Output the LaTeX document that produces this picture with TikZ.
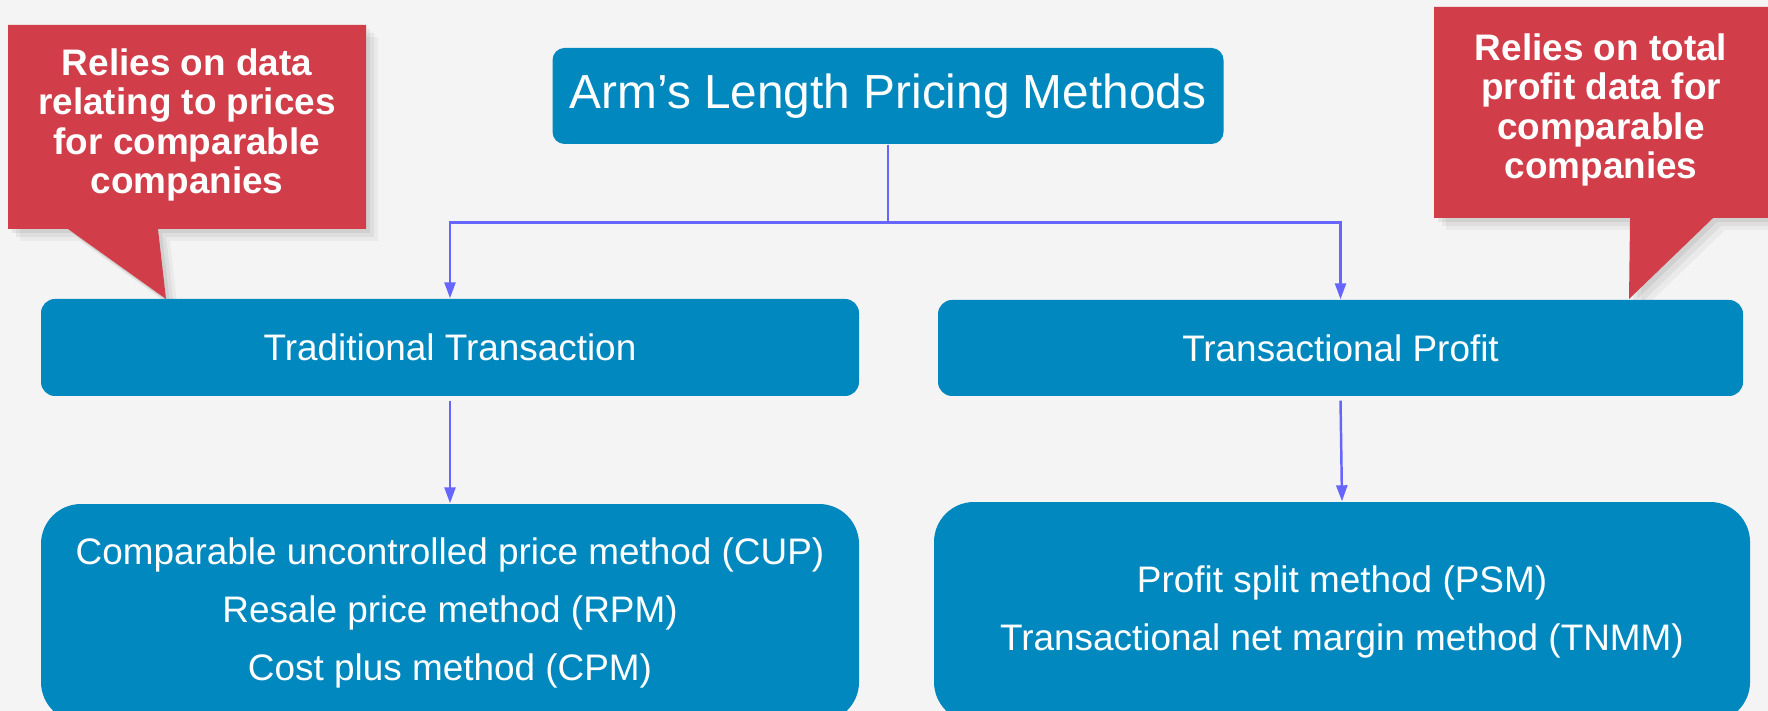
\documentclass[tikz,border=0pt]{standalone}
\usepackage{fontspec}
\setmainfont{Liberation Sans}
\usetikzlibrary{arrows.meta,shadows,positioning}

\definecolor{boxblue}{RGB}{1,137,191}
\definecolor{notered}{RGB}{209,62,74}
\definecolor{flowblue}{RGB}{102,102,255}
\definecolor{paper}{RGB}{244,244,244}

\tikzset{
  methodbox/.style={fill=boxblue, text=white, inner sep=0pt, align=center,
    font=\fontsize{10.5}{16.4}\selectfont},
  flow/.style={draw=flowblue, line width=0.7pt, -{Triangle[width=0.11cm,length=0.16cm]}},
  notetext/.style={text=white, inner sep=0pt, align=center,
    font=\bfseries\fontsize{10.5}{11.2}\selectfont},
  noteshadow/.style={
    drop shadow={shadow xshift=0.12cm, shadow yshift=-0.12cm, opacity=0.04, fill=black},
    drop shadow={shadow xshift=0.08cm, shadow yshift=-0.08cm, opacity=0.05, fill=black},
    drop shadow={shadow xshift=0.04cm, shadow yshift=-0.04cm, opacity=0.06, fill=black}},
}

\begin{document}
\begin{tikzpicture}
 \def\W{17.68}
 \def\H{7.11}

    % Background
    \fill[paper] (0,0) rectangle (\W,-\H);
    \useasboundingbox (0,0) rectangle (\W,-\H);

    % Notes
    \coordinate (ltip) at (1.66,-2.99);
    \coordinate (rtip) at (16.29,-2.99);
    \fill[notered, noteshadow] (0.08,-0.25) -- (3.66,-0.25) -- (3.66,-2.29) -- (1.58,-2.29)
      -- (ltip) -- (0.68,-2.29) -- (0.08,-2.29) -- cycle;
    \fill[notered, noteshadow] (14.34,-0.07) -- (17.80,-0.07) -- (17.80,-2.18) -- (17.13,-2.18)
      -- (rtip) -- (16.30,-2.18) -- (14.34,-2.18) -- cycle;
    \node[notetext] (lnote) at (1.87,-1.25) {Relies on data\\relating to prices\\for comparable\\companies};
    \node[notetext] (rnote) at (16.01,-1.10) {Relies on total\\profit data for\\comparable\\companies};

    % Boxes
    \node[methodbox, minimum width=6.71cm, minimum height=0.96cm, rounded corners=0.12cm,
      font=\fontsize{13.6}{16}\selectfont] (title) at (8.88,-0.96) {Arm’s Length Pricing Methods};
    \node[methodbox, minimum width=8.18cm, minimum height=0.97cm, rounded corners=0.14cm]
      (trad) at (4.50,-3.475) {Traditional Transaction};
    \node[methodbox, minimum width=8.05cm, minimum height=0.96cm, rounded corners=0.14cm]
      (tprof) at (13.405,-3.48) {Transactional Profit};
    \node[methodbox, minimum width=8.18cm, minimum height=2.18cm, rounded corners=0.4cm]
      (tradlist) at (4.50,-6.13) {Comparable uncontrolled price method (CUP)\\Resale price method (RPM)\\Cost plus method (CPM)};
    \node[methodbox, minimum width=8.16cm, minimum height=2.20cm, rounded corners=0.4cm]
      (proflist) at (13.42,-6.12) {Profit split method (PSM)\\Transactional net margin method (TNMM)};

    % Arrows
    \draw[flow] (title.south) -- ++(0,-0.78) -| (trad.north);
    \draw[flow] (title.south) -- ++(0,-0.78) -| (tprof.north);
    \draw[flow] ([yshift=-0.04cm]trad.south) -- (tradlist.north);
    \draw[flow] ([yshift=-0.04cm]tprof.south) -- (proflist.north);
\end{tikzpicture}
\end{document}
